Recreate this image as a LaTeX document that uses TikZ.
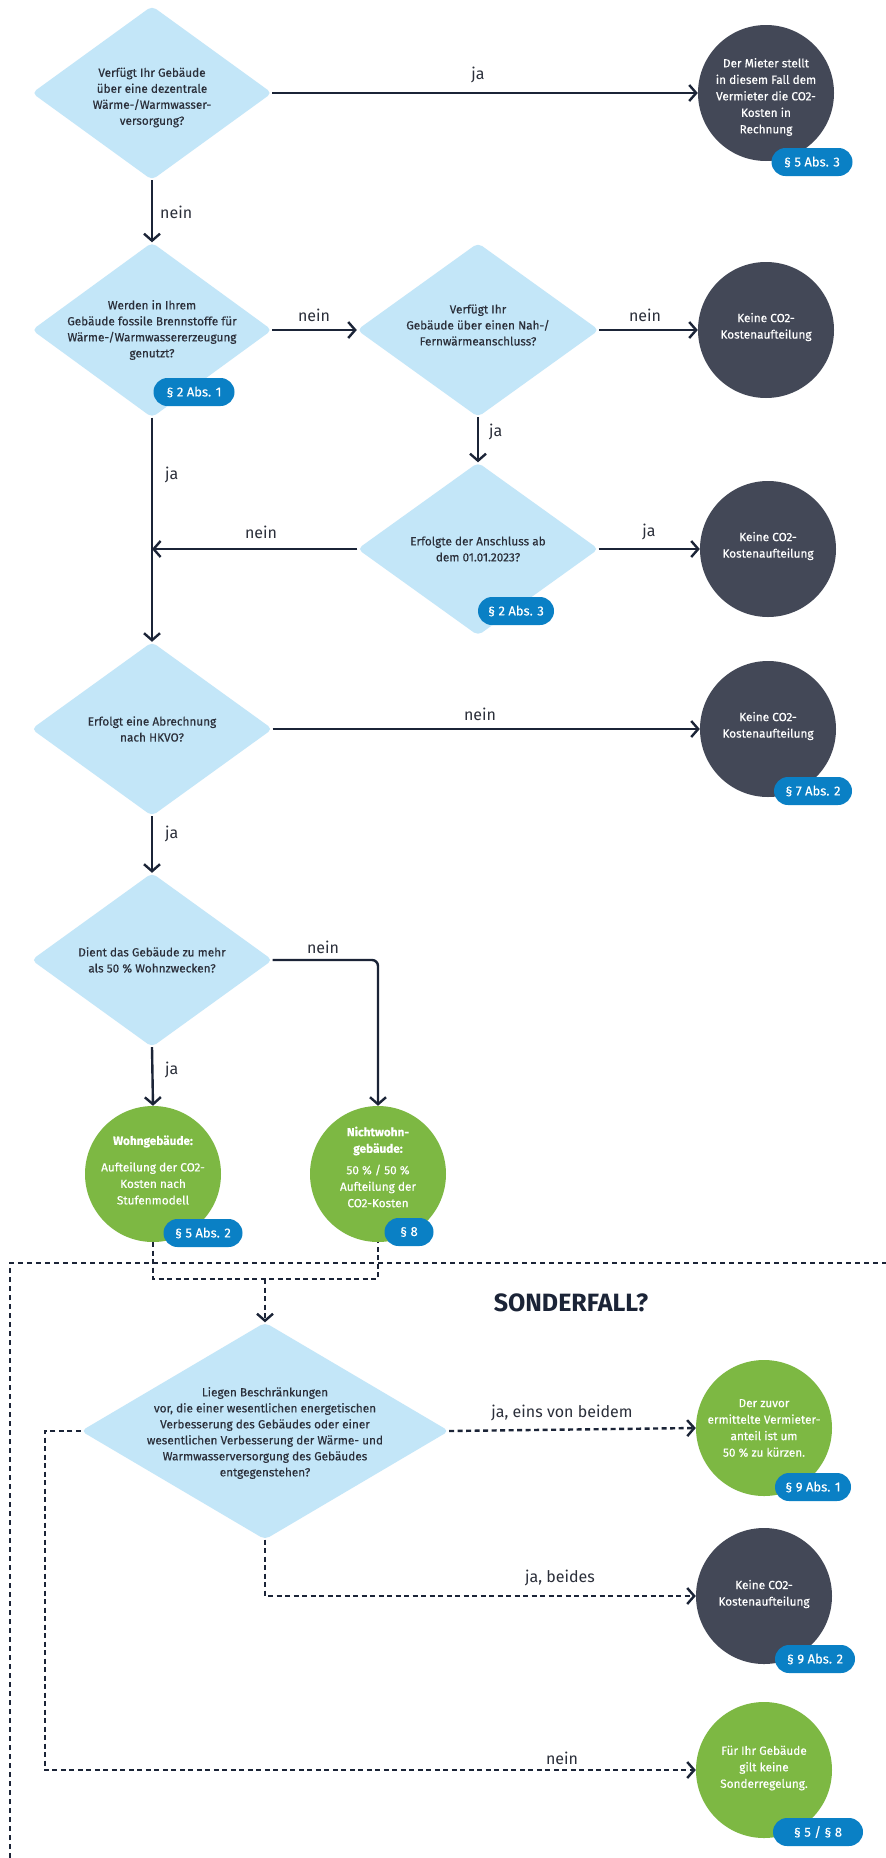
\documentclass[tikz,border=0pt]{standalone}
\usepackage{fontspec}
\setmainfont{Fira Sans}
\newfontfamily\medfont[FakeBold=0.35]{Fira Sans}
\usetikzlibrary{shapes.geometric,arrows.meta}
\definecolor{dia}{HTML}{C3E6F8}
\definecolor{darkc}{HTML}{434857}
\definecolor{grn}{HTML}{7DB843}
\definecolor{badgec}{HTML}{0A80C5}
\definecolor{ln}{HTML}{1B2437}
\definecolor{txt}{HTML}{2B2F3A}
\tikzset{
 dnode/.style={diamond, fill=dia, rounded corners=5pt, inner sep=0pt},
 dtext/.style={align=center, font=\medfont\fontsize{11.8}{16}\selectfont, text=txt, inner sep=0pt},
 endc/.style={circle, minimum size=136pt, inner sep=0pt},
 darkcirc/.style={endc, fill=darkc},
 grncirc/.style={endc, fill=grn},
 ctext/.style={align=center, text=white, font=\medfont\fontsize{11.8}{16.5}\selectfont, inner sep=0pt},
 badgebox/.style={fill=badgec, rounded corners=14pt, minimum height=28pt, text=white, font=\medfont\fontsize{13}{15}\selectfont, inner sep=0pt},
 conn/.style={draw=ln, line width=2.4pt, -{Straight Barb[length=7pt,width=16pt]}},
 dconn/.style={conn, dash pattern=on 5pt off 3.5pt},
 lbl/.style={font=\fontsize{16}{18}\selectfont, text=txt, inner sep=0pt},
}
\begin{document}
\begin{tikzpicture}[x=1pt,y=-1pt]
\useasboundingbox[fill=white] (0,0) rectangle (886,1858);

% diamonds
\node[dnode, minimum width=240pt, minimum height=174pt] (d1) at (152,93) {};
\node[dnode, minimum width=240pt, minimum height=175pt] (d2) at (152,330) {};
\node[dnode, minimum width=242pt, minimum height=174pt] (d3) at (478,330) {};
\node[dnode, minimum width=241pt, minimum height=173pt] (d4) at (478,549) {};
\node[dnode, minimum width=241pt, minimum height=174pt] (d5) at (152,729) {};
\node[dnode, minimum width=241pt, minimum height=174pt] (d6) at (152,960) {};
\node[dnode, minimum width=368pt, minimum height=217pt] (d7) at (265,1431) {};

\node[dtext] (t1) at (152,97.5) {Verfügt Ihr Gebäude\\über eine dezentrale\\Wärme-/Warmwasser-\\versorgung?};
\node[dtext] (t2) at (152,330) {Werden in Ihrem\\Gebäude fossile Brennstoffe für\\Wärme-/Warmwassererzeugung\\genutzt?};
\node[dtext] (t3) at (478,325) {Verfügt Ihr\\Gebäude über einen Nah-/\\Fernwärmeanschluss?};
\node[dtext] (t4) at (478,549) {Erfolgte der Anschluss ab\\dem 01.01.2023?};
\node[dtext] (t5) at (152,729) {Erfolgt eine Abrechnung\\nach HKVO?};
\node[dtext] (t6) at (152,960) {Dient das Gebäude zu mehr\\als 50 \% Wohnzwecken?};
\node[dtext] (t7) at (265,1433) {Liegen Beschränkungen\\vor, die einer wesentlichen energetischen\\Verbesserung des Gebäudes oder einer\\wesentlichen Verbesserung der Wärme- und\\Warmwasserversorgung des Gebäudes\\entgegenstehen?};

% circles
\node[darkcirc] (c1) at (766,93) {};
\node[darkcirc] (c2) at (766,330) {};
\node[darkcirc] (c3) at (768,549) {};
\node[darkcirc] (c4) at (768,729) {};
\node[grncirc] (c5) at (153,1174) {};
\node[grncirc] (c6) at (378,1174) {};
\node[grncirc] (c7) at (764,1428) {};
\node[darkcirc] (c8) at (764,1596) {};
\node[grncirc] (c9) at (764,1770) {};

\node[ctext] (ct1) at (766,97) {Der Mieter stellt\\in diesem Fall dem\\Vermieter die CO2-\\Kosten in\\Rechnung};
\node[ctext] (ct2) at (766,327) {Keine CO2-\\Kostenaufteilung};
\node[ctext] (ct3) at (768,546) {Keine CO2-\\Kostenaufteilung};
\node[ctext] (ct4) at (768,726) {Keine CO2-\\Kostenaufteilung};
\node[ctext] (ct5) at (153,1170) {\textbf{Wohngebäude:}\\[10pt]Aufteilung der CO2-\\Kosten nach\\Stufenmodell};
\node[ctext] (ct6) at (378,1167) {\textbf{Nichtwohn-}\\\textbf{gebäude:}\\[5pt]50 \% / 50 \%\\Aufteilung der\\CO2-Kosten};
\node[ctext] (ct7) at (764,1428) {Der zuvor\\ermittelte Vermieter-\\anteil ist um\\50 \% zu kürzen.};
\node[ctext] (ct8) at (764,1594) {Keine CO2-\\Kostenaufteilung};
\node[ctext] (ct9) at (764,1768) {Für Ihr Gebäude\\gilt keine\\Sonderregelung.};

% badges
\node[badgebox, minimum width=81pt] (b1) at (812,162) {§ 5 Abs. 3};
\node[badgebox, minimum width=81pt] (b2) at (194,392) {§ 2 Abs. 1};
\node[badgebox, minimum width=76pt] (b3) at (516,611) {§ 2 Abs. 3};
\node[badgebox, minimum width=78pt] (b4) at (813,791) {§ 7 Abs. 2};
\node[badgebox, minimum width=79pt] (b5) at (203,1233) {§ 5 Abs. 2};
\node[badgebox, minimum width=49pt] (b6) at (409,1232) {§ 8};
\node[badgebox, minimum width=76pt] (b7) at (813,1487) {§ 9 Abs. 1};
\node[badgebox, minimum width=80pt] (b8) at (815,1659) {§ 9 Abs. 2};
\node[badgebox, minimum width=90pt] (b9) at (818,1832) {§ 5 / § 8};

% title
\node[font=\bfseries\fontsize{25}{28}\selectfont, text=ln, inner sep=0pt] (title) at (571,1303) {SONDERFALL?};

% solid connectors
\draw[conn] (d1.east) -- (c1.west);
\node[lbl] (l1) at (478,75) {ja};
\draw[conn] (d1.south) -- (d2.north);
\node[lbl, anchor=west] (l2) at (160,212) {nein};
\draw[conn] (d2.east) -- (d3.west);
\node[lbl] (l3) at (314,315) {nein};
\draw[conn] (d3.east) -- (c2.west);
\node[lbl] (l4) at (645,315) {nein};
\draw[conn] (d3.south) -- (d4.north);
\node[lbl, anchor=west] (l5) at (489,432) {ja};
\draw[conn] (d2.south) -- (d5.north);
\node[lbl, anchor=west] (l6) at (165,475) {ja};
\coordinate (j1) at (d2.south |- d4.west);
\draw[conn] (d4.west) -- (j1);
\node[lbl] (l7) at (261,532) {nein};
\draw[conn] (d4.east) -- (c3.west);
\node[lbl] (l8) at (649,532) {ja};
\draw[conn] (d5.east) -- (c4.west);
\node[lbl] (l9) at (480,714) {nein};
\draw[conn] (d5.south) -- (d6.north);
\node[lbl, anchor=west] (l10) at (165,834) {ja};
\draw[conn] (d6.south) -- (c5.north);
\node[lbl, anchor=west] (l11) at (165,1070) {ja};
\draw[conn, rounded corners=6pt] (d6.east) -| (c6.north);
\node[lbl] (l12) at (323,947) {nein};

% special case frame
\draw[draw=ln, line width=2pt, dash pattern=on 5pt off 4pt] (10,1858) -- (10,1263) -- (886,1263);

% dashed connectors
\coordinate (merge) at (265,1279);
\draw[draw=ln, line width=2pt, dash pattern=on 5pt off 3.5pt] (c5.south) |- (merge) -| (c6.south);
\draw[dconn] (merge) -- (d7.north);
\draw[dconn] (d7.east) -- (c7.west);
\node[lbl] (l13) at (562,1413) {ja, eins von beidem};
\draw[dconn] (d7.south) |- (c8.west);
\node[lbl] (l14) at (560,1578) {ja, beides};
\draw[dconn] (d7.west) -- ++(-36,0) |- (c9.west);
\node[lbl] (l15) at (562,1758) {nein};
\end{tikzpicture}
\end{document}
